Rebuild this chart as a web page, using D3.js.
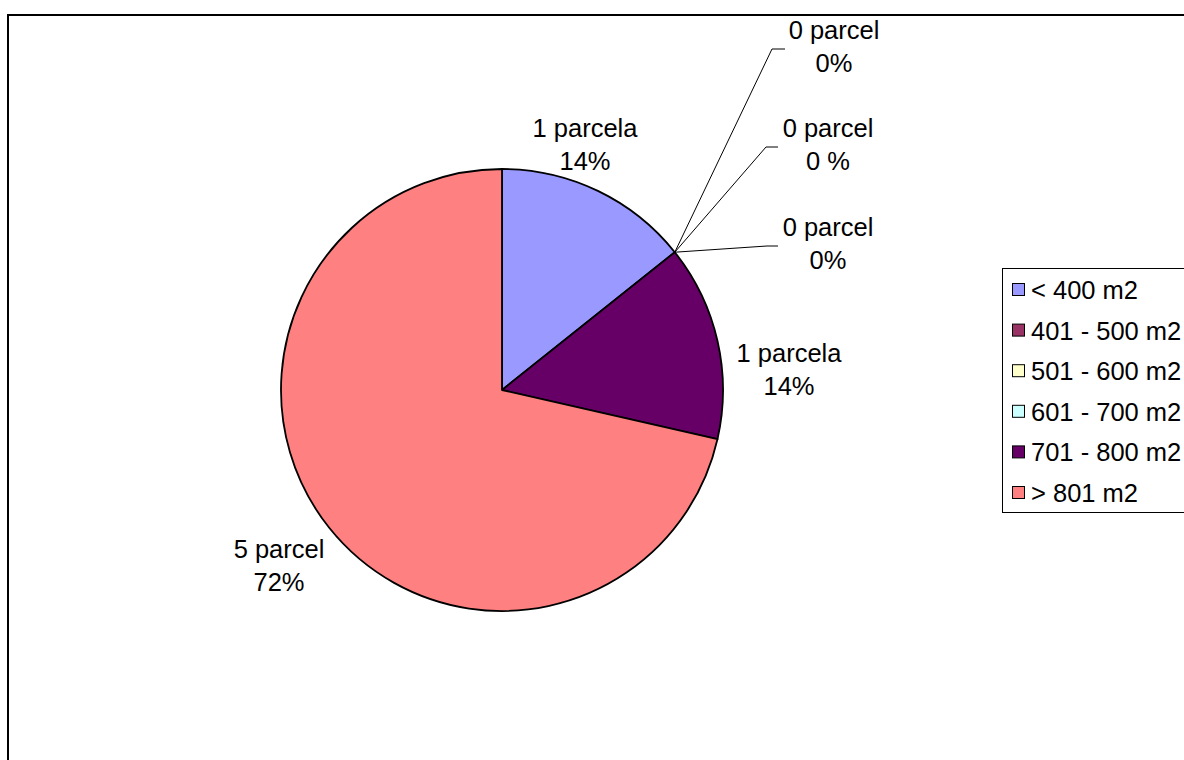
<!DOCTYPE html>
<html>
<head>
<meta charset="utf-8">
<script src="https://cdn.jsdelivr.net/npm/d3@7"></script>
<style>
  html, body { margin: 0; padding: 0; background: #fff; }
  svg { display: block; }
  text { font-family: "Liberation Sans", Arial, sans-serif; fill: #000; }
</style>
</head>
<body>
<svg id="chart" width="1184" height="760"></svg>
<script>
// ---- data ----
const categories = ["< 400 m2", "401 - 500 m2", "501 - 600 m2", "601 - 700 m2", "701 - 800 m2", "> 801 m2"];
const counts = [1, 0, 0, 0, 1, 5];
const countLabels = ["1 parcela", "0 parcel", "0 parcel", "0 parcel", "1 parcela", "5 parcel"];
const percentLabels = ["14%", "0%", "0 %", "0%", "14%", "72%"];
const colors = ["#9999FF", "#993366", "#FFFFCC", "#CCFFFF", "#660066", "#FF8080"];

// ---- layout (label anchor: centre x, first baseline y; leader elbow for zero slices) ----
const labelPos = [[585, 137], [834, 39], [828, 137], [828, 236], [789, 362], [279, 558]];
const leaderElbow = [null, [772, 49, 785], [766, 147, 778], [767, 246, 778], null, null];

const svg = d3.select("#chart");
const cx = 502, cy = 390, r = 221;
const fontSize = 25.5, lineGap = 32.5;

// outer border
svg.append("rect").attr("x", 8).attr("y", 15).attr("width", 1300).attr("height", 900)
  .attr("fill", "none").attr("stroke", "#000").attr("stroke-width", 2);

const pie = d3.pie().value(d => d).sort(null);
const arcs = pie(counts);
const arc = d3.arc().innerRadius(0).outerRadius(r);

const g = svg.append("g").attr("transform", `translate(${cx},${cy})`);
g.selectAll("path.slice").data(arcs.filter(a => a.value > 0)).join("path")
  .attr("class", "slice")
  .attr("d", arc)
  .attr("fill", d => colors[d.index])
  .attr("stroke", "#000").attr("stroke-width", 1.8).attr("stroke-linejoin", "round");

// leader lines
arcs.forEach((a, i) => {
  const e = leaderElbow[i];
  if (!e) return;
  const ang = a.startAngle;
  const px = cx + r * Math.sin(ang), py = cy - r * Math.cos(ang);
  svg.append("polyline")
    .attr("points", `${px},${py} ${e[0]},${e[1]} ${e[2]},${e[1]}`)
    .attr("fill", "none").attr("stroke", "#000").attr("stroke-width", 1);
});

// labels
arcs.forEach((a, i) => {
  const [lx, ly] = labelPos[i];
  const t = svg.append("text").attr("text-anchor", "middle").attr("font-size", fontSize);
  t.append("tspan").attr("x", lx).attr("y", ly).text(countLabels[i]);
  t.append("tspan").attr("x", lx).attr("y", ly + lineGap).text(percentLabels[i]);
});

// legend
const lg = svg.append("g");
lg.append("rect").attr("x", 1002.5).attr("y", 268.5).attr("width", 300).attr("height", 244)
  .attr("fill", "#fff").attr("stroke", "#000").attr("stroke-width", 1);
const ly = d3.scalePoint().domain(categories).range([290, 493]);
categories.forEach((c, i) => {
  lg.append("rect").attr("x", 1012.5).attr("y", ly(c) - 6.5).attr("width", 12).attr("height", 12)
    .attr("fill", colors[i]).attr("stroke", "#000").attr("stroke-width", 1);
  lg.append("text").attr("x", 1031).attr("y", ly(c) + 9).attr("font-size", fontSize).text(c);
});
</script>
</body>
</html>
